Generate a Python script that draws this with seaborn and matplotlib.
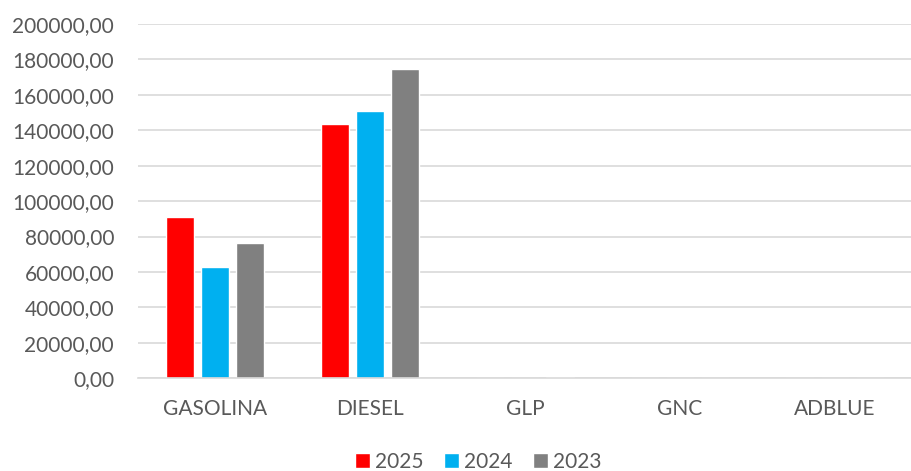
import matplotlib
matplotlib.use("Agg")
import matplotlib.pyplot as plt
import seaborn as sns
import pandas as pd

categorias = ["GASOLINA", "DIESEL", "GLP", "GNC", "ADBLUE"]
anos = ["2025", "2024", "2023"]
v2025 = [91000, 143600, 0, 0, 0]
v2024 = [63000, 151000, 0, 0, 250]
v2023 = [76300, 174600, 600, 0, 0]
cores = ["#ff0000", "#00b0f0", "#808080"]

df = pd.DataFrame({
    "categoria": categorias * 3,
    "ano": [a for a in anos for _ in categorias],
    "valor": v2025 + v2024 + v2023,
})

sns.set_theme(style="white")
plt.rcParams['font.family'] = ['Lato', 'DejaVu Sans']

fig = plt.figure(figsize=(9.12, 4.71), dpi=100)
ax = fig.add_axes([0.151, 0.197, 0.849, 0.752])
sns.barplot(data=df, x="categoria", y="valor", hue="ano", palette=cores,
            width=0.68, gap=0.2, ax=ax, saturation=1, legend=True)

ax.set_ylim(0, 200000)
ax.set_xlim(-0.5, 4.5)
ax.set_yticks(range(0, 200001, 20000))
ax.set_yticklabels([f"{v},00" for v in range(0, 200001, 20000)])
ax.grid(axis="y", color="#d9d9d9", linewidth=1.2)
ax.set_axisbelow(True)
for s in ["top", "right", "left"]:
    ax.spines[s].set_visible(False)
ax.spines["bottom"].set_color("#d9d9d9")
ax.spines["bottom"].set_linewidth(1.2)
ax.tick_params(axis="both", length=0, labelsize=15, colors="#595959")
ax.tick_params(axis="y", pad=17)
ax.tick_params(axis="x", pad=15)
ax.set_xlabel("")
ax.set_ylabel("")

ax.legend(loc="lower center", bbox_to_anchor=(0.44, -0.305), ncol=3, frameon=False,
          fontsize=15, labelcolor="#595959", handlelength=0.7, handleheight=0.7,
          handletextpad=0.25, columnspacing=1.0, borderpad=0.2)

fig.savefig("out.png", dpi=100)
